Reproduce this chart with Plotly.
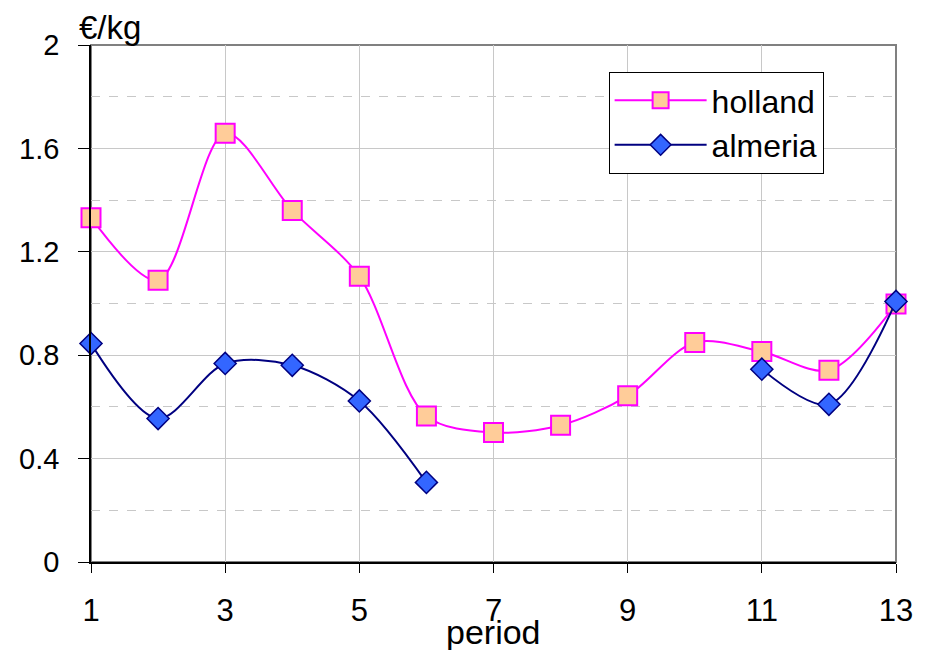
import plotly.graph_objects as go

periods = list(range(1, 14))
holland = [1.332, 1.090, 1.659, 1.360, 1.105, 0.565, 0.501, 0.529, 0.643, 0.849, 0.814, 0.742, 0.998]
almeria = [0.845, 0.555, 0.768, 0.761, 0.623, 0.308, None, None, None, None, 0.746, 0.610, 1.008]
x_ticks = [1, 3, 5, 7, 9, 11, 13]
y_ticks = [0, 0.4, 0.8, 1.2, 1.6, 2]
y_tick_text = ["0", "0.4", "0.8", "1.2", "1.6", "2"]

FONT = "Liberation Sans, Arial, sans-serif"

fig = go.Figure()
fig.add_trace(go.Scatter(
    x=periods, y=holland, name="holland", mode="lines+markers",
    line=dict(color="#FF00FF", width=2, shape="spline", smoothing=0.9),
    marker=dict(symbol="square", size=19, color="#FFCC99", line=dict(color="#FF00FF", width=2)),
    cliponaxis=False,
))
fig.add_trace(go.Scatter(
    x=periods, y=almeria, name="almeria", mode="lines+markers",
    line=dict(color="#000080", width=2, shape="spline", smoothing=0.9),
    marker=dict(symbol="diamond", size=17, color="#3366FF", line=dict(color="#000080", width=1.5)),
    connectgaps=False, cliponaxis=False,
))

fig.update_layout(
    width=925, height=650,
    margin=dict(l=91, r=26, t=45, b=88),
    paper_bgcolor="white", plot_bgcolor="white",
    font=dict(family=FONT, color="black"),
    showlegend=True,
    legend=dict(
        x=0.643, y=0.948, xanchor="left", yanchor="top",
        bgcolor="white", bordercolor="black", borderwidth=1,
        font=dict(size=32, family=FONT, color="black"),
        itemwidth=92,
    ),
    shapes=[dict(type="rect", xref="paper", yref="paper", x0=0, y0=0, x1=1, y1=1,
                 line=dict(color="#808080", width=2), layer="below")],
    annotations=[
        dict(text="€/kg", xref="paper", yref="paper", x=-0.018, y=1, xanchor="left",
             yanchor="middle", yshift=18, showarrow=False,
             font=dict(size=33, family=FONT, color="black")),
        dict(text="period", xref="x", yref="paper", x=7, y=0, xanchor="center",
             yanchor="top", yshift=-49, showarrow=False,
             font=dict(size=34, family=FONT, color="black")),
    ],
)

fig.update_xaxes(
    range=[1, 13], tickmode="array", tickvals=x_ticks, ticktext=[str(v) for v in x_ticks],
    showgrid=True, gridcolor="#C8C8C8", gridwidth=1,
    showline=True, linecolor="black", linewidth=1.5,
    ticks="outside", ticklen=9, tickcolor="black", tickwidth=1,
    tickfont=dict(size=31, family=FONT, color="black"),
    ticklabelstandoff=11, zeroline=False,
)
fig.update_yaxes(
    range=[0, 2], tickmode="array", tickvals=y_ticks, ticktext=y_tick_text,
    showgrid=True, gridcolor="#C8C8C8", gridwidth=1,
    minor=dict(dtick=0.2, showgrid=True, gridcolor="#C8C8C8", griddash="dash", gridwidth=1),
    showline=True, linecolor="black", linewidth=1.5,
    ticks="outside", ticklen=11, tickcolor="black", tickwidth=1,
    tickfont=dict(size=29, family=FONT, color="black"),
    ticklabelstandoff=13, zeroline=False,
)

fig.write_html("out.html")
